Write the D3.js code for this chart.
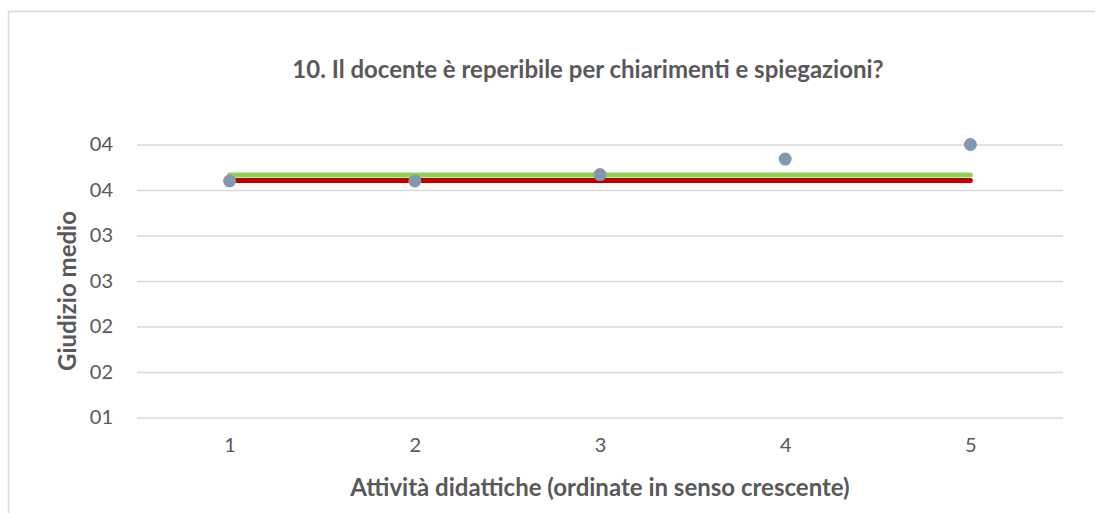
<!DOCTYPE html>
<html>
  <head>
    <meta charset="utf-8" />
    <script src="https://cdn.jsdelivr.net/npm/d3@7/dist/d3.min.js"></script>
    <style>
      body {
        margin: 0;
        background: #fff;
      }
      svg text {
        font-family: Lato, "Open Sans", sans-serif;
        fill: #595959;
      }
    </style>
  </head>
  <body>
    <svg id="chart"></svg>
    <script>
      // data
      const activities = [1, 2, 3, 4, 5];
      const ratings = [3.6, 3.6, 3.67, 3.84, 4.0];
      const greenLine = [3.665, 3.665, 3.665, 3.665, 3.665];
      const redLine = [3.605, 3.605, 3.605, 3.605, 3.605];
      const yTicks = [1, 1.5, 2, 2.5, 3, 3.5, 4];
      const yTickLabels = ["01", "02", "02", "03", "03", "04", "04"];

      const title = "10. Il docente è reperibile per chiarimenti e spiegazioni?";
      const xTitle = "Attività didattiche (ordinate in senso crescente)";
      const yTitle = "Giudizio medio";

      const width = 1095,
        height = 513;
      const plot = { left: 137, right: 1063, top: 144.5, bottom: 417.5 };

      const svg = d3
        .select("#chart")
        .attr("width", width)
        .attr("height", height);

      // chart frame (runs off the right and bottom edge)
      svg
        .append("rect")
        .attr("x", 8.5)
        .attr("y", 11.5)
        .attr("width", width + 20)
        .attr("height", height + 20)
        .style("fill", "none")
        .style("stroke", "#d9d9d9")
        .style("stroke-width", 1.5);

      const x = d3
        .scalePoint()
        .domain(activities)
        .range([plot.left, plot.right])
        .padding(0.5);

      const y = d3
        .scaleLinear()
        .domain([1, 4])
        .range([plot.bottom, plot.top]);

      // gridlines + y labels
      const yAxis = d3
        .axisLeft(y)
        .tickValues(yTicks)
        .tickSize(-(plot.right - plot.left))
        .tickPadding(24)
        .tickFormat((d, i) => yTickLabels[i]);

      svg
        .append("g")
        .attr("transform", `translate(${plot.left},0)`)
        .call(yAxis)
        .call(g => g.select(".domain").remove())
        .call(g =>
          g
            .selectAll(".tick line")
            .style("stroke", "#d9d9d9")
            .style("stroke-width", 1.5)
        )
        .call(g =>
          g
            .selectAll(".tick text")
            .style("font-size", "20px")
            .style("fill", "#595959")
        );

      const xAxis = d3.axisBottom(x).tickSize(0).tickPadding(20);

      svg
        .append("g")
        .attr("transform", `translate(0,${plot.bottom})`)
        .call(xAxis)
        .call(g => g.select(".domain").remove())
        .call(g =>
          g
            .selectAll(".tick text")
            .style("font-size", "20px")
            .style("fill", "#595959")
        );

      const line = d3
        .line()
        .x((d, i) => x(activities[i]))
        .y(d => y(d));

      svg
        .append("path")
        .datum(greenLine)
        .attr("d", line)
        .style("fill", "none")
        .style("stroke", "#92d050")
        .style("stroke-width", 5)
        .style("stroke-linecap", "round");

      svg
        .append("path")
        .datum(redLine)
        .attr("d", line)
        .style("fill", "none")
        .style("stroke", "#c00000")
        .style("stroke-width", 5)
        .style("stroke-linecap", "round");

      svg
        .selectAll("circle.rating")
        .data(ratings)
        .enter()
        .append("circle")
        .attr("class", "rating")
        .attr("cx", (d, i) => x(activities[i]))
        .attr("cy", d => y(d))
        .attr("r", 6.5)
        .style("fill", "#8497b0");

      svg
        .append("text")
        .attr("x", 588)
        .attr("y", 78)
        .attr("text-anchor", "middle")
        .style("font-size", "24px")
        .style("font-weight", "bold")
        .text(title);

      svg
        .append("text")
        .attr("x", (plot.left + plot.right) / 2)
        .attr("y", 496)
        .attr("text-anchor", "middle")
        .style("font-size", "24px")
        .style("font-weight", "bold")
        .text(xTitle);

      svg
        .append("text")
        .attr("transform", `translate(76,${(plot.top + plot.bottom) / 2 + 10}) rotate(-90)`)
        .attr("text-anchor", "middle")
        .style("font-size", "24px")
        .style("font-weight", "bold")
        .text(yTitle);
    </script>
  </body>
</html>
